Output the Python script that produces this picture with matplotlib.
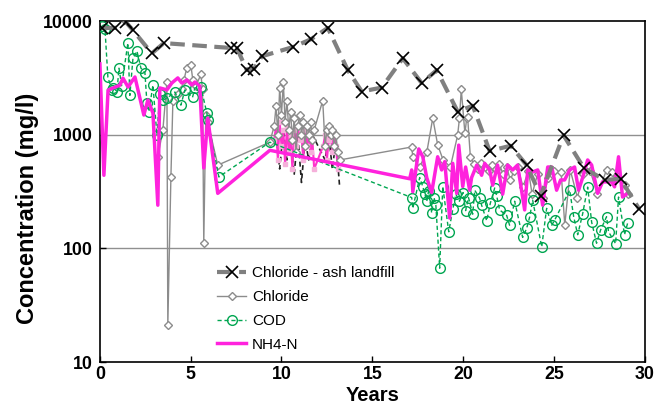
import numpy as np
import matplotlib.pyplot as plt

# Chloride - ash landfill
ash_yr = [0.11, 0.83, 1.43, 1.82, 2.86, 3.52, 7.21, 7.54, 8.09, 8.48, 8.92, 10.62, 11.61, 12.55,
          13.65, 14.42, 15.52, 16.68, 17.72, 18.55, 19.70, 20.53, 21.46, 22.62, 23.50, 24.27,
          25.53, 26.65, 27.79, 28.67, 29.71]
ash_val = [8700, 8700, 9800, 8300, 5200, 6400, 5800, 5800, 3700, 3800, 4900, 5900, 6900, 8700,
           3700, 2400, 2600, 4700, 2850, 3700, 1600, 1800, 720, 800, 540, 290,
           990, 510, 400, 410, 220]

# Chloride
cl_yr = [3.19, 3.47, 3.69, 3.74, 3.91, 4.02, 4.3, 4.5, 4.62, 4.79, 5.01, 5.12, 5.3, 5.56, 5.65,
         5.72, 5.83, 5.94, 6.49, 9.36,
         9.6, 9.7, 9.8, 9.9, 10.0, 10.1, 10.2, 10.3, 10.4, 10.5, 10.6, 10.7, 10.8, 10.9,
         11.0, 11.1, 11.2, 11.3, 11.4, 11.5, 11.6, 11.7, 11.8, 12.27, 12.4, 12.5, 12.6,
         12.7, 12.8, 12.9, 13.0, 13.1, 13.2, 17.17, 17.23, 17.6, 18.0, 18.33, 18.6, 18.9,
         19.3, 19.7, 19.8, 19.9, 20.1, 20.2, 20.25, 20.4,
         20.6, 20.8, 21.0, 21.2, 21.4, 21.6, 21.8, 22.0, 22.2, 22.4, 22.6, 22.8, 23.0, 23.3,
         23.6, 23.8, 24.1, 24.4, 24.7, 25.0, 25.4, 25.6, 25.9, 26.3, 26.6, 27.0, 27.4, 27.9,
         28.2, 28.5, 28.9, 29.1]
cl_val = [640, 1110, 2900, 21, 425, 2000, 2300, 2500, 3000, 3900, 4100, 3000, 2700, 3400, 2500,
          111, 1500, 1300, 540, 860,
          1200, 1800, 1000, 2600, 1500, 2900, 1300, 2000, 1100, 1600, 900, 1400, 700, 1200,
          1500, 1000, 1300, 800, 1200, 1000, 1300, 900, 1100, 2000, 800, 1100, 1200,
          1000, 1100, 800, 1000, 700, 600, 780, 640, 520, 700, 1400, 815, 600,
          520, 990, 1400, 2500, 1030, 1400, 1430, 640,
          550, 500, 560, 520, 480, 540, 500, 550, 450, 520, 400, 480, 520, 350,
          480, 300, 450, 280, 420, 480, 470, 160, 490, 280, 450, 480, 300, 490,
          470, 430, 360, 300]

# COD
cod_yr = [0.1, 0.28, 0.44, 0.66, 0.72, 0.94, 1.05, 1.2, 1.54, 1.65, 1.82, 2.04, 2.26, 2.48, 2.59,
          2.7, 2.92, 3.14, 3.3, 3.47, 3.7, 4.13, 4.46, 4.68, 5.1, 5.23, 5.56, 5.89, 5.94, 6.55,
          9.36, 17.17, 17.23, 17.61, 17.78, 17.9, 18.0, 18.1, 18.27, 18.4, 18.5, 18.71, 18.88,
          19.21, 19.43, 19.6, 19.8, 20.0, 20.14, 20.3, 20.53, 20.64, 20.91, 21.02, 21.3, 21.5,
          21.74, 21.85, 22.01, 22.4, 22.56, 22.84, 23.28, 23.5, 23.67, 23.83, 24.33, 24.6,
          24.88, 25.04, 25.87, 26.09, 26.31, 26.58, 26.86, 27.08, 27.35, 27.57, 27.9, 28.01,
          28.4, 28.56, 28.89, 29.06]
cod_val = [9000, 8500, 3200, 2480, 2600, 2400, 3850, 2700, 6400, 2220, 4700, 5450, 3850, 3500, 1900,
           1600, 2730, 990, 2300, 2020, 2100, 2375, 1820, 2480, 2130, 2580, 2630, 1550, 1340, 425,
           860, 280, 225, 420, 350, 300, 260, 320, 205, 280, 240, 67, 350,
           140, 220, 300, 260, 310, 215, 280, 200, 325, 277, 240, 175, 250,
           340, 290, 218, 195, 160, 260, 125, 150, 190, 266, 103, 225,
           160, 177, 326, 190, 132, 200, 346, 170, 111, 145, 190, 140,
           110, 283, 132, 167]

# NH4-N
nh_yr = [0.0, 0.22, 0.45, 1.1, 1.27, 1.55, 1.93, 2.42, 2.64, 2.92, 3.19, 3.3, 3.69, 3.96, 4.29,
         4.51, 4.79, 5.06, 5.23, 5.5, 5.72, 5.94, 6.49, 9.36, 17.06, 17.17, 17.23, 17.56, 17.78,
         18.0, 18.27, 18.6, 18.82, 18.99, 19.26, 19.43, 19.65, 19.76, 19.98, 20.14, 20.36,
         20.47, 20.75, 21.02, 21.19, 21.46, 21.63, 21.9, 22.18, 22.45, 22.73, 23.0, 23.39,
         23.56, 23.83, 24.11, 24.38, 24.66, 24.88, 25.15, 25.37, 25.59, 25.87, 26.14, 26.36,
         26.58, 26.86, 27.08, 27.41, 27.68, 28.18, 28.34, 28.56, 28.78, 29.06]
nh_val = [4200, 440, 2470, 2730, 3150, 2630, 3220, 1490, 2020, 1550, 240, 2580, 2480, 2850, 3160,
          2850, 3030, 2740, 2910, 2680, 510, 1400, 305, 730, 410, 490, 315, 750, 640,
          418, 310, 640, 490, 580, 185, 560, 305, 810, 350, 520, 325,
          420, 540, 440, 560, 490, 360, 541, 300, 541, 490, 541, 218,
          490, 470, 490, 240, 520, 520, 325, 400, 400, 490, 520, 325,
          418, 600, 541, 305, 385, 385, 348, 640, 283, 305]

# second well, 10-13 years (not in legend)
nh2_yr = [9.6, 9.7, 9.8, 9.9, 10.0, 10.1, 10.2, 10.3, 10.4, 10.5, 10.6, 10.7, 10.8, 10.9, 11.0,
          11.1, 11.2, 11.3, 11.4, 11.5, 11.6, 11.7, 11.8, 12.3, 12.4, 12.5, 12.6, 12.7, 12.8,
          12.9, 13.0, 13.1]
nh2_val = [900, 1200, 600, 1300, 800, 1100, 550, 1200, 700, 1000, 500, 1100, 800, 1200, 900,
           1000, 600, 1100, 800, 1000, 700, 900, 500, 800, 1000, 600, 900, 1100, 700,
           1000, 800, 500]
blk_yr = [9.7, 9.9, 10.1, 10.3, 10.5, 10.7, 10.9, 11.1, 11.3, 11.5, 11.7, 12.4, 12.6, 12.8, 13.0,
          13.2]
blk_val = [1000, 500, 1100, 600, 900, 450, 1000, 380, 900, 600, 1000, 600, 1000, 500, 900, 350]

plt.rcParams['font.family'] = ['Liberation Sans', 'DejaVu Sans']
fig, ax = plt.subplots(figsize=(6.66, 4.05), dpi=100)
fig.subplots_adjust(left=0.150, right=0.968, bottom=0.106, top=0.948)

ax.axhline(1000, color='#909090', lw=1, zorder=0)
ax.axhline(100, color='#909090', lw=1, zorder=0)

ax.plot(blk_yr, blk_val, color='#222222', ls=(0, (3, 2)), lw=1.2, zorder=2)
ax.plot(nh2_yr, nh2_val, color='#ff33cc', lw=1.5, marker='s', ms=3, mfc='#f5b0da', mec='#f5b0da',
        zorder=3)
ax.plot(cl_yr, cl_val, color='#8c8c8c', lw=1, marker='D', ms=4, mfc='white', mec='#8c8c8c',
        mew=1, label='Chloride', zorder=3)
ax.plot(cod_yr, cod_val, color='#00a651', ls=(0, (3, 2)), lw=1, marker='o', ms=7, mfc='none',
        mec='#00a651', label='COD', zorder=4)
ax.plot(nh_yr, nh_val, color='#ff22dd', lw=2.5, label='NH4-N', zorder=5)
ax.plot(ash_yr, ash_val, color='#808080', ls=(0, (3.5, 1.8)), lw=3, marker='x', ms=9, mec='black',
        mew=1.2, label='Chloride - ash landfill', zorder=6)

ax.set_yscale('log')
ax.set_ylim(10, 10000)
ax.set_xlim(0, 30)
ax.set_xticks([0, 5, 10, 15, 20, 25, 30])
ax.set_yticks([10, 100, 1000, 10000])
ax.set_yticklabels(['10', '100', '1000', '10000'])
ax.minorticks_off()
ax.tick_params(direction='in', length=4, width=1, labelsize=12.8)
ax.tick_params(axis='x', pad=3)
ax.tick_params(axis='y', pad=5)
for lab in ax.get_xticklabels() + ax.get_yticklabels():
    lab.set_fontweight('bold')
for s in ax.spines.values():
    s.set_linewidth(1.2)

ax.set_xlabel('Years', fontsize=14.5, fontweight='bold')
ax.xaxis.set_label_coords(0.5, -0.07)
ax.set_ylabel('Concentration (mg/l)', fontsize=17, fontweight='bold')
ax.yaxis.set_label_coords(-0.112, 0.45)

h, l = ax.get_legend_handles_labels()
order = [l.index(n) for n in ['Chloride - ash landfill', 'Chloride', 'COD', 'NH4-N']]
ax.legend([h[i] for i in order], [l[i] for i in order], loc='lower left',
          bbox_to_anchor=(0.215, 0.03), frameon=False, fontsize=11, handlelength=1.9,
          handletextpad=0.4, labelspacing=0.65, borderpad=0, borderaxespad=0)

fig.savefig('out.png', dpi=100)
